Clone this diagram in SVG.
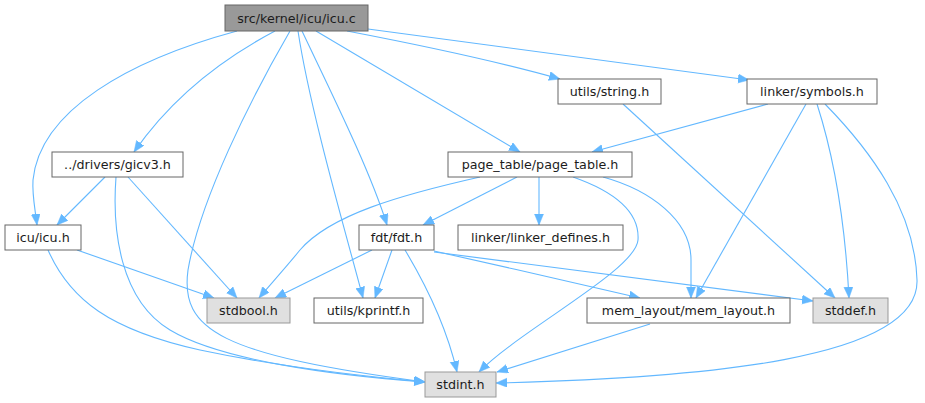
<svg xmlns="http://www.w3.org/2000/svg" width="925" height="403" viewBox="0 0 925 403">
<style>
  .n rect{fill:#ffffff;stroke:#666666;stroke-width:1}
  .g rect{fill:#e0e0e0;stroke:#999999;stroke-width:1}
  .r rect{fill:#999999;stroke:#666666;stroke-width:1}
  text{font-family:"DejaVu Sans",Verdana,sans-serif;font-size:12.7px;fill:#1c1c1c;text-anchor:middle}
  #edges path{fill:none;stroke:#63b8ff;stroke-width:1.1;marker-end:url(#ah)}
</style>
<defs>
  <marker id="ah" markerUnits="userSpaceOnUse" markerWidth="12" markerHeight="10" refX="11" refY="4.5" orient="auto" viewBox="0 0 12 10">
    <path d="M0,0 L11,4.5 L0,9 z" fill="#63b8ff" stroke="#63b8ff" stroke-width="0.5"/>
  </marker>
</defs>
<rect width="925" height="403" fill="#ffffff"/>
<g id="edges">
  <!-- icu.c -->
  <path d="M237,31 C130,60 40,110 33,180 C32,195 35,208 37,225"/>
  <path d="M275,31 C220,60 170,100 134,152"/>
  <path d="M290,31 C250,100 200,200 188,270 C180,330 220,355 425,382"/>
  <path d="M298,31 C310,110 345,230 363,298"/>
  <path d="M302,31 C330,90 370,170 387,225"/>
  <path d="M316,31 L520,152"/>
  <path d="M347,31 C420,45 500,62 560,79"/>
  <path d="M368,29 L749,80"/>
  <!-- string.h -->
  <path d="M623,104 L835,298"/>
  <!-- symbols.h -->
  <path d="M768,104 L592,152"/>
  <path d="M806,104 L696,298"/>
  <path d="M817,104 C835,160 845,220 849,298"/>
  <path d="M825,104 C870,150 915,210 917,280 C920,360 700,378 496,383"/>
  <!-- gicv3.h -->
  <path d="M105,177 L57,225"/>
  <path d="M116,177 C112,230 120,300 170,330 C220,360 330,375 425,382"/>
  <path d="M128,177 L237,298"/>
  <!-- page_table.h -->
  <path d="M480,177 C400,195 330,215 300,250 C282,272 268,287 259,298"/>
  <path d="M517,177 L423,225"/>
  <path d="M539,177 L539,225"/>
  <path d="M573,177 C610,190 640,210 638,240 C636,270 520,330 479,372"/>
  <path d="M603,177 C650,190 691,220 691,260 L691,298"/>
  <!-- icu.h -->
  <path d="M77,250 L214,298"/>
  <path d="M48,250 C70,300 110,330 200,350 C280,367 360,376 425,382"/>
  <!-- fdt.h -->
  <path d="M372,250 L275,298"/>
  <path d="M392,250 L375,298"/>
  <path d="M405,250 C420,275 445,320 457,372"/>
  <path d="M434,251 C500,266 590,286 640,298"/>
  <path d="M434,252 C520,264 640,278 813,301"/>
  <!-- mem_layout.h -->
  <path d="M650,324 L497,372"/>
</g>
<g id="node-icu-c" class="r"><rect x="225" y="5" width="143" height="26"/><text x="296.5" y="22.5">src/kernel/icu/icu.c</text></g>
<g id="node-string" class="n"><rect x="558" y="79" width="103" height="25"/><text x="609.5" y="96">utils/string.h</text></g>
<g id="node-symbols" class="n"><rect x="747" y="79" width="130" height="25"/><text x="812" y="96">linker/symbols.h</text></g>
<g id="node-gicv3" class="n"><rect x="52" y="152" width="131" height="25"/><text x="117.5" y="169">../drivers/gicv3.h</text></g>
<g id="node-page-table" class="n"><rect x="448" y="152" width="184" height="25"/><text x="540" y="169">page_table/page_table.h</text></g>
<g id="node-icu-h" class="n"><rect x="5" y="225" width="76" height="25"/><text x="43" y="242">icu/icu.h</text></g>
<g id="node-fdt" class="n"><rect x="359" y="225" width="75" height="25"/><text x="396.5" y="242">fdt/fdt.h</text></g>
<g id="node-linker-defines" class="n"><rect x="458" y="225" width="165" height="25"/><text x="540.5" y="242">linker/linker_defines.h</text></g>
<g id="node-stdbool" class="g"><rect x="207" y="298" width="83" height="25"/><text x="248.5" y="315">stdbool.h</text></g>
<g id="node-kprintf" class="n"><rect x="314" y="298" width="109" height="25"/><text x="368.5" y="315">utils/kprintf.h</text></g>
<g id="node-mem-layout" class="n"><rect x="587" y="298" width="203" height="25"/><text x="688.5" y="315">mem_layout/mem_layout.h</text></g>
<g id="node-stddef" class="g"><rect x="813" y="298" width="75" height="25"/><text x="850.5" y="315">stddef.h</text></g>
<g id="node-stdint" class="g"><rect x="425" y="372" width="71" height="25"/><text x="460.5" y="389">stdint.h</text></g>
</svg>
